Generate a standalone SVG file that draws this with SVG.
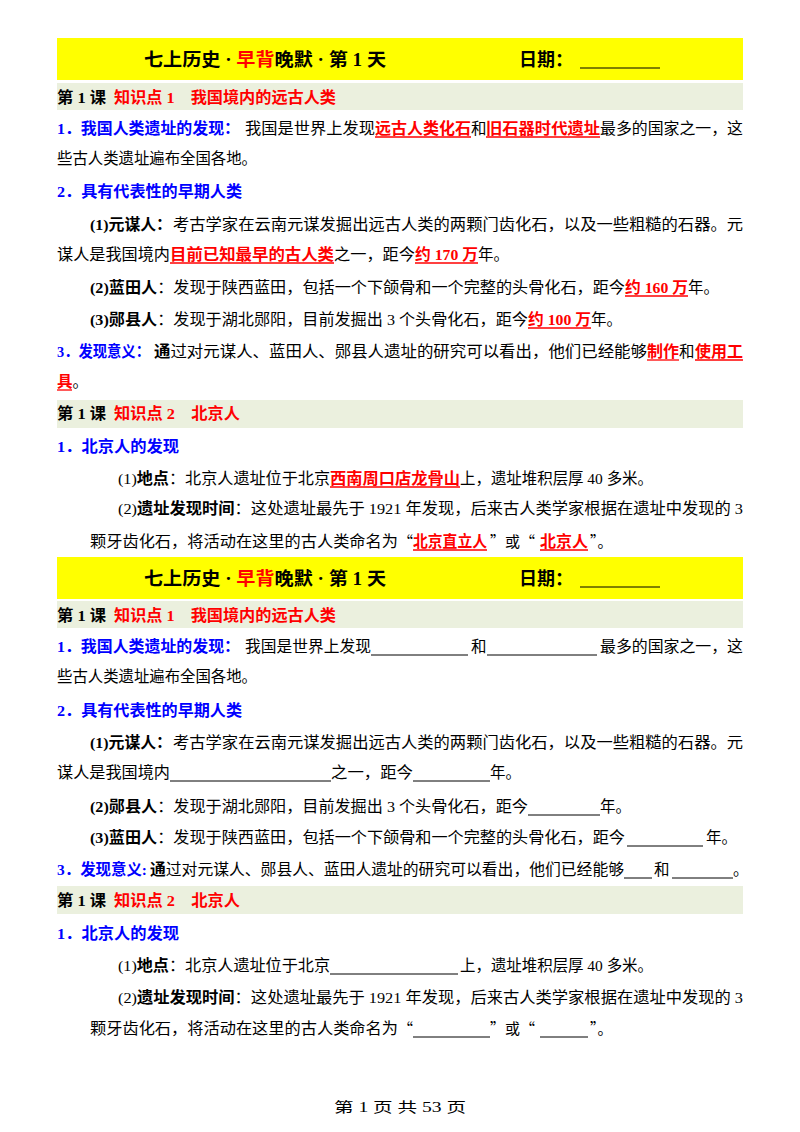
<svg xmlns="http://www.w3.org/2000/svg" width="800" height="1132" viewBox="0 0 800 1132">
<style>
text{font-family:"Liberation Serif","Noto Sans CJK SC",serif;font-size:15.5px;fill:#000}
.b{font-weight:bold}.bl{fill:#0000ff;font-weight:bold}.r{fill:#ff0000;font-weight:bold}
.t{font-size:18px;font-weight:bold}
.q{font-family:"Noto Sans CJK SC",sans-serif;font-size:15px}
.u{stroke:#ff0000;stroke-width:1.3}.k{stroke:#000;stroke-width:1}
</style>
<rect width="800" height="1132" fill="#fff"/>
<g id="page1">
<rect x="57" y="38" width="686" height="42" fill="#ffff00"/>
<text class="t" x="144" y="66" textLength="242" lengthAdjust="spacingAndGlyphs">七上历史 · <tspan fill="#ff0000">早背</tspan>晚默 · 第 1 天</text>
<text class="t" x="519" y="66">日期：</text><line class="k" x1="580" y1="68" x2="660" y2="68" stroke-width="1.5"/>
<rect x="57" y="83" width="686" height="27" fill="#ebf0de"/>
<text x="57" y="103" class="b" textLength="49" lengthAdjust="spacingAndGlyphs">第 1 课</text>
<text x="114" y="103" class="r" textLength="222" lengthAdjust="spacingAndGlyphs">知识点 1　我国境内的远古人类</text>
<text x="57" y="134" class="bl" textLength="183" lengthAdjust="spacingAndGlyphs">1．我国人类遗址的发现：</text>
<text x="245" y="134" textLength="130" lengthAdjust="spacingAndGlyphs">我国是世界上发现</text>
<text x="375" y="134" class="r" textLength="96" lengthAdjust="spacingAndGlyphs">远古人类化石</text>
<text x="471" y="134">和</text>
<text x="486" y="134" class="r" textLength="114" lengthAdjust="spacingAndGlyphs">旧石器时代遗址</text>
<text x="600" y="134" textLength="143" lengthAdjust="spacingAndGlyphs">最多的国家之一，这</text>
<line class="u" x1="375" y1="137" x2="471" y2="137"/><line class="u" x1="486" y1="137" x2="600" y2="137"/>
<text x="57" y="164" textLength="200" lengthAdjust="spacingAndGlyphs">些古人类遗址遍布全国各地。</text>
<text x="57" y="197" class="bl" textLength="185" lengthAdjust="spacingAndGlyphs">2．具有代表性的早期人类</text>
<text x="90" y="230" class="b" textLength="82" lengthAdjust="spacingAndGlyphs">(1)元谋人：</text>
<text x="173" y="230" textLength="570" lengthAdjust="spacingAndGlyphs">考古学家在云南元谋发掘出远古人类的两颗门齿化石，以及一些粗糙的石器。元</text>
<text x="57" y="260" textLength="113" lengthAdjust="spacingAndGlyphs">谋人是我国境内</text>
<text x="170" y="260" class="r" textLength="164" lengthAdjust="spacingAndGlyphs">目前已知最早的古人类</text>
<text x="334" y="260" textLength="81" lengthAdjust="spacingAndGlyphs">之一，距今</text>
<text x="415" y="260" class="r" textLength="63" lengthAdjust="spacingAndGlyphs">约 170 万</text><text x="478" y="260">年。</text>
<line class="u" x1="170" y1="263" x2="334" y2="263"/><line class="u" x1="415" y1="263" x2="478" y2="263"/>
<text x="90" y="293" textLength="535" lengthAdjust="spacingAndGlyphs"><tspan class="b">(2)蓝田人</tspan>：发现于陕西蓝田，包括一个下颌骨和一个完整的头骨化石，距今</text>
<text x="625" y="293" class="r" textLength="63" lengthAdjust="spacingAndGlyphs">约 160 万</text><text x="688" y="293">年。</text>
<line class="u" x1="625" y1="296" x2="688" y2="296"/>
<text x="90" y="325" textLength="438" lengthAdjust="spacingAndGlyphs"><tspan class="b">(3)郧县人</tspan>：发现于湖北郧阳，目前发掘出 3 个头骨化石，距今</text>
<text x="528" y="325" class="r" textLength="63" lengthAdjust="spacingAndGlyphs">约 100 万</text><text x="591" y="325">年。</text>
<line class="u" x1="528" y1="328" x2="591" y2="328"/>
<text x="57" y="357" class="bl" textLength="93" lengthAdjust="spacingAndGlyphs">3．发现意义：</text>
<text x="154" y="357" textLength="493" lengthAdjust="spacingAndGlyphs"><tspan class="b">通</tspan>过对元谋人、蓝田人、郧县人遗址的研究可以看出，他们已经能够</text>
<text x="647" y="357" class="r" textLength="32" lengthAdjust="spacingAndGlyphs">制作</text><text x="679" y="357">和</text>
<text x="695" y="357" class="r" textLength="48" lengthAdjust="spacingAndGlyphs">使用工</text>
<line class="u" x1="647" y1="360" x2="679" y2="360"/><line class="u" x1="695" y1="360" x2="743" y2="360"/>
<text x="57" y="387"><tspan class="r">具</tspan>。</text><line class="u" x1="57" y1="390" x2="72" y2="390"/>
<rect x="57" y="400" width="686" height="28" fill="#ebf0de"/>
<text x="57" y="419" class="b" textLength="49" lengthAdjust="spacingAndGlyphs">第 1 课</text>
<text x="114" y="419" class="r" textLength="126" lengthAdjust="spacingAndGlyphs">知识点 2　北京人</text>
<text x="57" y="452" class="bl" textLength="122" lengthAdjust="spacingAndGlyphs">1．北京人的发现</text>
<text x="118" y="484" textLength="212" lengthAdjust="spacingAndGlyphs">(1)<tspan class="b">地点</tspan>：北京人遗址位于北京</text>
<text x="330" y="484" class="r" textLength="130" lengthAdjust="spacingAndGlyphs">西南周口店龙骨山</text>
<text x="460" y="484" textLength="193" lengthAdjust="spacingAndGlyphs">上，遗址堆积层厚 40 多米。</text>
<line class="u" x1="330" y1="487" x2="460" y2="487"/>
<text x="118" y="514" textLength="625" lengthAdjust="spacingAndGlyphs">(2)<tspan class="b">遗址发现时间</tspan>：这处遗址最先于 1921 年发现，后来古人类学家根据在遗址中发现的 3</text>
<text x="90" y="547" textLength="308" lengthAdjust="spacingAndGlyphs">颗牙齿化石，将活动在这里的古人类命名为</text><text x="398" y="547" class="q">“</text>
<text x="413" y="547" class="r" textLength="74" lengthAdjust="spacingAndGlyphs">北京直立人</text>
<text x="490" y="547" class="q">”或“</text>
<text x="540" y="547" class="r" textLength="48" lengthAdjust="spacingAndGlyphs">北京人</text><text x="590" y="547" class="q">”。</text>
<line class="u" x1="413" y1="550" x2="487" y2="550"/><line class="u" x1="540" y1="550" x2="588" y2="550"/>
</g>
<g id="page2">
<rect x="57" y="557" width="686" height="42" fill="#ffff00"/>
<text class="t" x="144" y="585" textLength="242" lengthAdjust="spacingAndGlyphs">七上历史 · <tspan fill="#ff0000">早背</tspan>晚默 · 第 1 天</text>
<text class="t" x="519" y="585">日期：</text><line class="k" x1="580" y1="587" x2="660" y2="587" stroke-width="1.5"/>
<rect x="57" y="601" width="686" height="27" fill="#ebf0de"/>
<text x="57" y="621" class="b" textLength="49" lengthAdjust="spacingAndGlyphs">第 1 课</text>
<text x="114" y="621" class="r" textLength="222" lengthAdjust="spacingAndGlyphs">知识点 1　我国境内的远古人类</text>
<text x="57" y="652" class="bl" textLength="183" lengthAdjust="spacingAndGlyphs">1．我国人类遗址的发现：</text>
<text x="245" y="652" textLength="126" lengthAdjust="spacingAndGlyphs">我国是世界上发现</text>
<line class="k" x1="371" y1="655" x2="468" y2="655"/>
<text x="471" y="652">和</text>
<line class="k" x1="487" y1="655" x2="597" y2="655"/>
<text x="600" y="652" textLength="143" lengthAdjust="spacingAndGlyphs">最多的国家之一，这</text>
<text x="57" y="682" textLength="200" lengthAdjust="spacingAndGlyphs">些古人类遗址遍布全国各地。</text>
<text x="57" y="716" class="bl" textLength="185" lengthAdjust="spacingAndGlyphs">2．具有代表性的早期人类</text>
<text x="90" y="748" class="b" textLength="82" lengthAdjust="spacingAndGlyphs">(1)元谋人：</text>
<text x="173" y="748" textLength="570" lengthAdjust="spacingAndGlyphs">考古学家在云南元谋发掘出远古人类的两颗门齿化石，以及一些粗糙的石器。元</text>
<text x="57" y="778" textLength="113" lengthAdjust="spacingAndGlyphs">谋人是我国境内</text><line class="k" x1="170" y1="781" x2="331" y2="781"/>
<text x="331" y="778" textLength="82" lengthAdjust="spacingAndGlyphs">之一，距今</text><line class="k" x1="413" y1="781" x2="490" y2="781"/><text x="490" y="778">年。</text>
<text x="90" y="812" textLength="438" lengthAdjust="spacingAndGlyphs"><tspan class="b">(2)郧县人</tspan>：发现于湖北郧阳，目前发掘出 3 个头骨化石，距今</text>
<line class="k" x1="528" y1="815" x2="600" y2="815"/><text x="600" y="812">年。</text>
<text x="90" y="843" textLength="535" lengthAdjust="spacingAndGlyphs"><tspan class="b">(3)蓝田人</tspan>：发现于陕西蓝田，包括一个下颌骨和一个完整的头骨化石，距今</text>
<line class="k" x1="627" y1="846" x2="703" y2="846"/><text x="706" y="843">年。</text>
<text x="57" y="875" class="bl" textLength="90" lengthAdjust="spacingAndGlyphs">3．发现意义:</text>
<text x="150" y="875" textLength="474" lengthAdjust="spacingAndGlyphs"><tspan class="b">通</tspan>过对元谋人、郧县人、蓝田人遗址的研究可以看出，他们已经能够</text>
<line class="k" x1="624" y1="878" x2="652" y2="878"/><text x="654" y="875">和</text>
<line class="k" x1="672" y1="878" x2="733" y2="878"/><text x="733" y="875">。</text>
<rect x="57" y="886" width="686" height="28" fill="#ebf0de"/>
<text x="57" y="906" class="b" textLength="49" lengthAdjust="spacingAndGlyphs">第 1 课</text>
<text x="114" y="906" class="r" textLength="126" lengthAdjust="spacingAndGlyphs">知识点 2　北京人</text>
<text x="57" y="939" class="bl" textLength="122" lengthAdjust="spacingAndGlyphs">1．北京人的发现</text>
<text x="118" y="971" textLength="212" lengthAdjust="spacingAndGlyphs">(1)<tspan class="b">地点</tspan>：北京人遗址位于北京</text>
<line class="k" x1="330" y1="974" x2="458" y2="974"/>
<text x="460" y="971" textLength="193" lengthAdjust="spacingAndGlyphs">上，遗址堆积层厚 40 多米。</text>
<text x="118" y="1003" textLength="625" lengthAdjust="spacingAndGlyphs">(2)<tspan class="b">遗址发现时间</tspan>：这处遗址最先于 1921 年发现，后来古人类学家根据在遗址中发现的 3</text>
<text x="90" y="1034" textLength="308" lengthAdjust="spacingAndGlyphs">颗牙齿化石，将活动在这里的古人类命名为</text><text x="398" y="1034" class="q">“</text>
<line class="k" x1="413" y1="1037" x2="490" y2="1037"/><text x="490" y="1034" class="q">”或“</text>
<line class="k" x1="540" y1="1037" x2="588" y2="1037"/><text x="590" y="1034" class="q">”。</text>
</g>
<text x="400" y="1112" text-anchor="middle" style="font-size:14px" textLength="132" lengthAdjust="spacingAndGlyphs">第 1 页 共 53 页</text>
</svg>
